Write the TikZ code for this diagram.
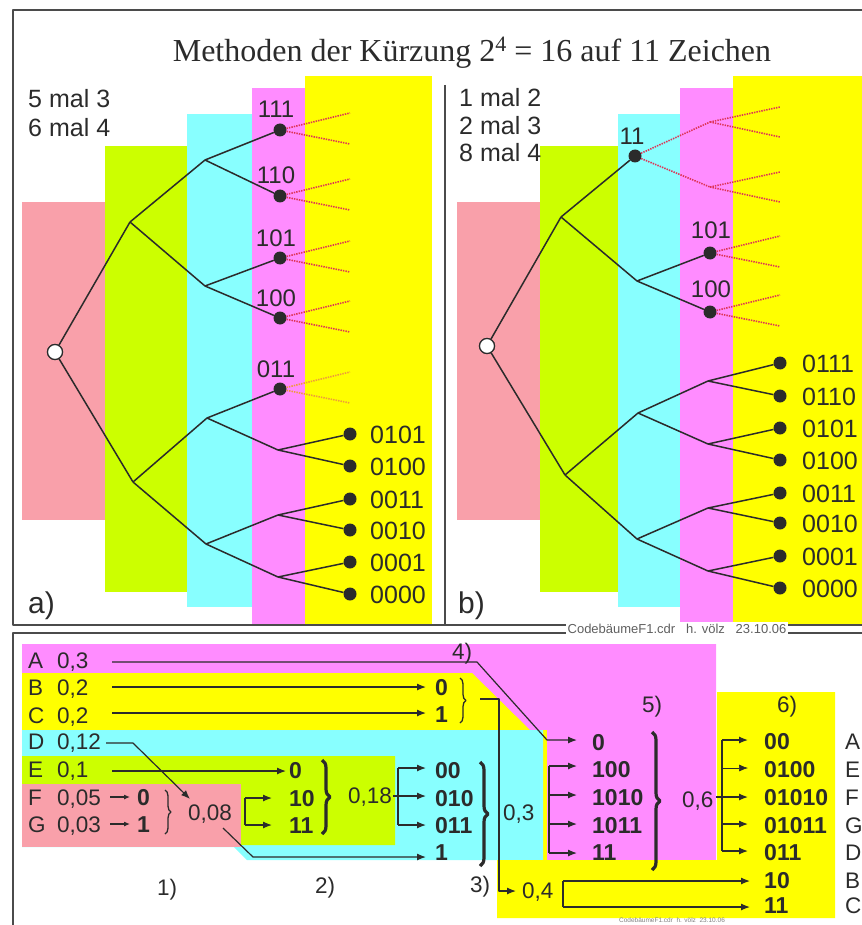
\documentclass[tikz,border=0pt]{standalone}
\usepackage{fontspec}
\setmainfont{Liberation Sans}
\newfontfamily\titlefont{Liberation Serif}
\usetikzlibrary{arrows.meta,decorations.pathreplacing}
\definecolor{cpink}{HTML}{F9A0AA}
\definecolor{cgreen}{HTML}{CCFF00}
\definecolor{ccyan}{HTML}{88FFFF}
\definecolor{cmag}{HTML}{FF8CFF}
\definecolor{cyel}{HTML}{FFFF00}
\definecolor{ink}{HTML}{2B2B2B}
\definecolor{dred}{HTML}{DD3355}
\definecolor{dorange}{HTML}{EE9A3C}
\begin{document}
\begin{tikzpicture}[x=1pt,y=-1pt,line join=round,
  edge/.style={ink,line width=1.5pt},
  dot/.style={circle,fill=ink,inner sep=0pt,minimum size=13pt},
  rootc/.style={circle,draw=ink,fill=white,line width=1.2pt,inner sep=0pt,minimum size=15pt},
  dotline/.style={dred,line width=1.6pt,dash pattern=on 1.4pt off 1.1pt},
  lbl/.style={anchor=base west,inner sep=0pt,text=ink,font=\fontsize{25}{25}\selectfont},
  codelbl/.style={anchor=base,inner sep=0pt,text=ink,font=\fontsize{24}{24}\selectfont},
  rt/.style={anchor=base west,inner sep=0pt,text=ink,font=\fontsize{22.5}{22.5}\selectfont},
  bt/.style={anchor=base west,inner sep=0pt,text=ink,font=\fontsize{23}{23}\selectfont\bfseries},
  arr/.style={ink,line width=1.2pt,-{Latex[length=9pt,width=7pt]}},
  thinarr/.style={ink,line width=0.6pt,-{Latex[length=9pt,width=7pt]}},
  smallarr/.style={ink,line width=1.1pt,-{Latex[length=6pt,width=5pt]}},
  plain/.style={ink,line width=1.2pt},
  bracethin/.style={decorate,decoration={brace,amplitude=6pt},ink,line width=1.3pt},
  bracebold/.style={decorate,decoration={brace,amplitude=8pt},ink,line width=3.2pt}]
\useasboundingbox (0,0) rectangle (861,925);

% ---------- coloured bands, upper half ----------
\fill[cpink]  (22,202) rectangle (105,520);
\fill[cgreen] (105,146) rectangle (187,592);
\fill[ccyan]  (187,114) rectangle (252,607);
\fill[cmag]   (252,88)  rectangle (305,624);
\fill[cyel]   (305,76)  rectangle (432,624);
\fill[cpink]  (457,202) rectangle (540,520);
\fill[cgreen] (540,146) rectangle (618,592);
\fill[ccyan]  (618,114) rectangle (680,607);
\fill[cmag]   (680,88)  rectangle (733,624);
\fill[cyel]   (733,76)  rectangle (870,624);

% ---------- coloured areas, lower half ----------
\fill[cmag] (22,644) -- (716,644) -- (716,860) -- (547,860) -- (547,730) -- (22,730) -- cycle;
\fill[cyel] (22,673) -- (472,673) -- (530,730) -- (22,730) -- cycle;
\fill[cyel] (543,730) rectangle (547,860);
\fill[ccyan] (22,730) -- (543,730) -- (543,860) -- (247,860) -- (234,847) -- (22,847) -- cycle;
\fill[cgreen] (22,756) -- (395,756) -- (395,845) -- (241,845) -- (241,784) -- (22,784) -- cycle;
\fill[cpink] (22,784) rectangle (241,847);
\fill[cyel] (497,860) -- (717,860) -- (717,692) -- (835,692) -- (835,918) -- (497,918) -- cycle;

% ---------- frames ----------
\draw[ink!85,line width=1.5pt] (880,10) -- (13,10) -- (13,625) -- (880,625);
\draw[ink!85,line width=1.5pt] (880,633) -- (13,633) -- (13,940);
\draw[ink!85,line width=1.5pt] (445,85) -- (445,625);
\node[fill=white,inner sep=2pt,text=ink!75,font=\fontsize{13}{13}\selectfont] (foot) at (677,629)
  {CodebäumeF1.cdr\ \ \ h. völz\ \ \ 23.10.06};
\node[anchor=north,inner sep=0pt,text=ink!60,font=\fontsize{6.5}{6.5}\selectfont] (foot2) at (672,918)
  {CodebäumeF1.cdr\ \ h. völz\ \ 23.10.06};

% ---------- title ----------
\node[anchor=base,inner sep=0pt,text=ink,font=\titlefont\fontsize{32}{32}\selectfont] (title) at (472,62)
  {Methoden der Kürzung 2\raisebox{0.32em}{\fontsize{22}{22}\selectfont 4} = 16 auf 11 Zeichen};

% ---------- tree a) ----------
\node[lbl] (ta1) at (28,108) {5 mal 3};
\node[lbl] (ta2) at (28,137) {6 mal 4};
\node[anchor=base west,inner sep=0pt,text=ink,font=\fontsize{30}{30}\selectfont] (pa) at (28,613) {a)};

\coordinate (a1) at (130,222);
\coordinate (a0) at (133,482);
\coordinate (a11) at (205,160);
\coordinate (a10) at (205,286);
\coordinate (a01) at (207,418);
\coordinate (a00) at (206,544);
\coordinate (a010) at (278,450);
\coordinate (a001) at (278,515);
\coordinate (a000) at (278,577);

\foreach \n/\y in {111/130,110/196,101/258,100/318}{
  \coordinate (a\n u) at (350,\y-17);
  \coordinate (a\n d) at (350,\y+14);
  \node[dot] (a\n) at (280,\y) {};
  \node[codelbl] (la\n) at (276,\y-12) {\n};
  \draw[dotline] (a\n) -- (a\n u);
  \draw[dotline] (a\n) -- (a\n d);
}
\node[dot] (a011) at (280,389) {};
\node[codelbl] (la011) at (276,377) {011};
\coordinate (a011u) at (350,372);
\coordinate (a011d) at (350,403);
\draw[dotline,dorange] (a011) -- (a011u);
\draw[dotline,dorange] (a011) -- (a011d);

\foreach \n/\y in {0101/434,0100/466,0011/499,0010/530,0001/562,0000/594}{
  \node[dot] (a\n) at (350,\y) {};
  \node[lbl] (la\n) at (370,\y+9) {\n};
}

\node[rootc] (ra) at (55,352) {};
\draw[edge] (ra) -- (a1);
\draw[edge] (ra) -- (a0);
\draw[edge] (a1) -- (a11);
\draw[edge] (a1) -- (a10);
\draw[edge] (a0) -- (a01);
\draw[edge] (a0) -- (a00);
\draw[edge] (a11) -- (a111);
\draw[edge] (a11) -- (a110);
\draw[edge] (a10) -- (a101);
\draw[edge] (a10) -- (a100);
\draw[edge] (a01) -- (a011);
\draw[edge] (a01) -- (a010);
\draw[edge] (a00) -- (a001);
\draw[edge] (a00) -- (a000);
\draw[edge] (a010) -- (a0101);
\draw[edge] (a010) -- (a0100);
\draw[edge] (a001) -- (a0011);
\draw[edge] (a001) -- (a0010);
\draw[edge] (a000) -- (a0001);
\draw[edge] (a000) -- (a0000);
\node[rootc] at (ra) {};

% ---------- tree b) ----------
\node[lbl] (tb1) at (459,107) {1 mal 2};
\node[lbl] (tb2) at (459,135) {2 mal 3};
\node[lbl] (tb3) at (459,162) {8 mal 4};
\node[anchor=base west,inner sep=0pt,text=ink,font=\fontsize{30}{30}\selectfont] (pb) at (458,613) {b)};

\coordinate (b1) at (561,217);
\coordinate (b0) at (565,475);
\coordinate (b10) at (637,281);
\coordinate (b01) at (638,413);
\coordinate (b00) at (637,539);
\coordinate (b011) at (708,381);
\coordinate (b010) at (708,444);
\coordinate (b001) at (708,508);
\coordinate (b000) at (708,571);

\node[dot] (b11) at (635,156) {};
\node[codelbl] (lb11) at (632,145) {11};
\coordinate (b111) at (710,122);
\coordinate (b110) at (710,187);
\draw[dotline] (b11) -- (b111);
\draw[dotline] (b11) -- (b110);
\foreach \m/\y in {111/122,110/187}{
  \coordinate (b\m u) at (780,\y-15);
  \coordinate (b\m d) at (780,\y+15);
  \draw[dotline] (b\m) -- (b\m u);
  \draw[dotline] (b\m) -- (b\m d);
}
\foreach \n/\y in {101/253,100/312}{
  \coordinate (b\n u) at (780,\y-17);
  \coordinate (b\n d) at (780,\y+14);
  \node[dot] (b\n) at (710,\y) {};
  \node[codelbl] (lb\n) at (711,\y-15) {\n};
  \draw[dotline] (b\n) -- (b\n u);
  \draw[dotline] (b\n) -- (b\n d);
}
\foreach \n/\y in {0111/363,0110/396,0101/428,0100/460,0011/493,0010/523,0001/556,0000/588}{
  \node[dot] (b\n) at (780,\y) {};
  \node[lbl] (lb\n) at (802,\y+9) {\n};
}

\node[rootc] (rb) at (487,346) {};
\draw[edge] (rb) -- (b1);
\draw[edge] (rb) -- (b0);
\draw[edge] (b1) -- (b11);
\draw[edge] (b1) -- (b10);
\draw[edge] (b10) -- (b101);
\draw[edge] (b10) -- (b100);
\draw[edge] (b0) -- (b01);
\draw[edge] (b0) -- (b00);
\draw[edge] (b01) -- (b011);
\draw[edge] (b01) -- (b010);
\draw[edge] (b00) -- (b001);
\draw[edge] (b00) -- (b000);
\draw[edge] (b011) -- (b0111);
\draw[edge] (b011) -- (b0110);
\draw[edge] (b010) -- (b0101);
\draw[edge] (b010) -- (b0100);
\draw[edge] (b001) -- (b0011);
\draw[edge] (b001) -- (b0010);
\draw[edge] (b000) -- (b0001);
\draw[edge] (b000) -- (b0000);
\node[rootc] at (rb) {};

% ---------- Huffman construction, lower half ----------
% symbols and probabilities
\node[rt] (sA) at (28,668) {A}; \node[rt] (pA) at (57,668) {0,3};
\node[rt] (sB) at (28,695) {B}; \node[rt] (pB) at (57,695) {0,2};
\node[rt] (sC) at (28,723) {C}; \node[rt] (pC) at (57,723) {0,2};
\node[rt] (sD) at (28,749) {D}; \node[rt] (pD) at (57,749) {0,12};
\node[rt] (sE) at (28,777) {E}; \node[rt] (pE) at (57,777) {0,1};
\node[rt] (sF) at (28,805) {F}; \node[rt] (pF) at (57,805) {0,05};
\node[rt] (sG) at (28,832) {G}; \node[rt] (pG) at (57,832) {0,03};

% step 1
\node[bt] (c1a) at (137,805) {0};
\node[bt] (c1b) at (137,832) {1};
\coordinate (fF) at (110,797); \coordinate (tF) at (130,797);
\coordinate (fG) at (110,824); \coordinate (tG) at (130,824);
\draw[smallarr] (fF) -- (tF);
\draw[smallarr] (fG) -- (tG);
\coordinate (br1t) at (165,790); \coordinate (br1b) at (165,834);
\draw[bracethin] (br1t) -- (br1b);
\node[rt] (s008) at (188,820) {0,08};
\node[rt] (st1) at (157,895) {1)};

% step 2
\node[bt] (c2a) at (289,778) {0};
\node[bt] (c2b) at (289,806) {10};
\node[bt] (c2c) at (289,833) {11};
\coordinate (k2t) at (245,798); \coordinate (k2b) at (245,825);
\coordinate (k2tt) at (272,798); \coordinate (k2bt) at (272,825);
\draw[plain] (k2t) -- (k2b);
\draw[arr] (k2t) -- (k2tt);
\draw[arr] (k2b) -- (k2bt);
\coordinate (br2t) at (322,760); \coordinate (br2b) at (322,834);
\draw[bracebold] (br2t) -- (br2b);
\node[rt] (s018) at (348,803) {0,18};
\node[rt] (st2) at (315,893) {2)};

% step 3
\node[bt] (c3B) at (435,695) {0};
\node[bt] (c3C) at (435,722) {1};
\node[bt] (c3a) at (435,778) {00};
\node[bt] (c3b) at (435,806) {010};
\node[bt] (c3c) at (435,833) {011};
\node[bt] (c3d) at (435,860) {1};
\coordinate (k3t) at (398,768); \coordinate (k3m) at (393,796); \coordinate (k3b) at (398,825);
\coordinate (k3tt) at (426,768); \coordinate (k3mt) at (426,796); \coordinate (k3bt) at (426,825);
\draw[plain] (k3t) -- (k3b);
\draw[arr] (k3t) -- (k3tt);
\draw[arr] (k3m) -- (k3mt);
\draw[arr] (k3b) -- (k3bt);
\coordinate (br3t) at (480,762); \coordinate (br3b) at (480,866);
\draw[bracebold] (br3t) -- (br3b);
\node[rt] (s03) at (503,820) {0,3};
\coordinate (brBCt) at (460,678); \coordinate (brBCb) at (460,723);
\draw[bracethin] (brBCt) -- (brBCb);
\node[rt] (st3) at (470,892) {3)};

% step 4: B, C are joined to 0,4
\node[rt] (s04) at (522,898) {0,4};
\coordinate (q1) at (480,699); \coordinate (q2) at (499,699);
\coordinate (q3) at (499,891); \coordinate (q4) at (516,891);
\draw[arr] (q1) -- (q2) -- (q3) -- (q4);
\node[rt] (st4) at (452,659) {4)};

% step 5
\node[bt] (c5a) at (592,750) {0};
\node[bt] (c5b) at (592,777) {100};
\node[bt] (c5c) at (592,805) {1010};
\node[bt] (c5d) at (592,833) {1011};
\node[bt] (c5e) at (592,860) {11};
\coordinate (k5t) at (549,766); \coordinate (k5b) at (549,853);
\draw[plain] (k5t) -- (k5b);
\foreach \y [count=\i] in {766,795,824,853}{
  \coordinate (k5s\i) at (549,\y);
  \coordinate (k5e\i) at (577,\y);
  \draw[arr] (k5s\i) -- (k5e\i);
}
\node[rt] (s06) at (682,807) {0,6};
\coordinate (br5t) at (652,732); \coordinate (br5b) at (652,870);
\draw[bracebold] (br5t) -- (br5b);
\node[rt] (st5) at (642,712) {5)};

% symbol A runs straight to step 5
\coordinate (wA1) at (112,662); \coordinate (wA2) at (477,662);
\coordinate (wA3) at (547,740); \coordinate (wA4) at (577,740);
\draw[arr] (wA1) -- (wA2) -- (wA3) -- (wA4);
% B and C
\coordinate (wB1) at (112,687); \coordinate (wB2) at (426,687);
\coordinate (wC1) at (112,713); \coordinate (wC2) at (426,713);
\draw[arr] (wB1) -- (wB2);
\draw[arr] (wC1) -- (wC2);
% D to 0,08
\coordinate (wD1) at (106,743); \coordinate (wD2) at (133,743); \coordinate (wD3) at (190,799);
\draw[arr] (wD1) -- (wD2) -- (wD3);
% E
\coordinate (wE1) at (112,771); \coordinate (wE2) at (286,771);
\draw[arr] (wE1) -- (wE2);
% 0,08 to code 1
\coordinate (w81) at (223,828); \coordinate (w82) at (253,857); \coordinate (w83) at (426,857);
\draw[arr] (w81) -- (w82) -- (w83);

% step 6: final codes
\node[rt] (st6) at (777,712) {6)};
\foreach \c/\s/\y in {00/A/749,0100/E/777,01010/F/805,01011/G/833,011/D/860,10/B/888,11/C/913}{
  \node[bt] (f\s) at (764,\y) {\c};
  \node[rt] (g\s) at (845,\y) {\s};
}
\coordinate (k6t) at (722,740); \coordinate (k6b) at (722,851);
\draw[plain] (k6t) -- (k6b);
\coordinate (k6a) at (748,740); \draw[arr] (k6t) -- (k6a);
\coordinate (k6s2) at (722,768); \coordinate (k6e2) at (748,768); \draw[thinarr] (k6s2) -- (k6e2);
\coordinate (k6s3) at (716,797); \coordinate (k6e3) at (748,797); \draw[arr] (k6s3) -- (k6e3);
\coordinate (k6s4) at (722,824); \coordinate (k6e4) at (748,824); \draw[arr] (k6s4) -- (k6e4);
\coordinate (k6e5) at (748,851); \draw[arr] (k6b) -- (k6e5);
\coordinate (k4t) at (563,881); \coordinate (k4b) at (563,907);
\coordinate (k4te) at (750,881); \coordinate (k4be) at (750,907);
\draw[plain] (k4t) -- (k4b);
\draw[arr] (k4t) -- (k4te);
\draw[arr] (k4b) -- (k4be);
\end{tikzpicture}
\end{document}
